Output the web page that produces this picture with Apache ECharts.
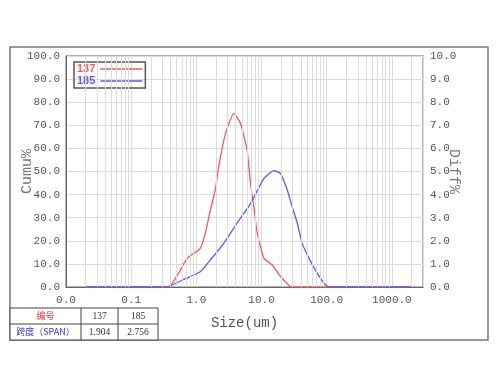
<!DOCTYPE html>
<html>
<head>
<meta charset="utf-8">
<script src="https://cdn.jsdelivr.net/npm/echarts@6/dist/echarts.min.js"></script>
<style>html,body{margin:0;padding:0;background:#fff;}#c{width:500px;height:375px;}</style>
</head>
<body>
<div id="c"></div>
<script>
// ---- data ----
var sizes137 = [0.02, 0.37, 0.72, 1.15, 1.37, 1.64, 1.95, 2.2, 2.8, 3.75, 4.75, 6.0, 6.77, 7.6, 8.6, 10.9, 14.6, 19.6, 26, 28, 2000];
var diff137  = [0, 0, 1.24, 1.67, 2.32, 3.33, 4.2, 5.2, 6.65, 7.52, 7.09, 5.93, 4.49, 3.48, 2.32, 1.24, 0.95, 0.45, 0.09, 0, 0];
var sizes185 = [0.02, 0.35, 0.64, 1.15, 1.64, 2.63, 4.2, 6.8, 10.9, 15.5, 19.5, 24.8, 29.5, 35.4, 42, 56.8, 72, 91, 108, 2000];
var diff185  = [0, 0, 0.33, 0.66, 1.17, 1.89, 2.76, 3.62, 4.7, 5.04, 4.92, 4.2, 3.48, 2.76, 1.89, 1.1, 0.59, 0.16, 0, 0];
var seriesNames = ['137', '185'];
var seriesColors = ['#f05a5a', '#5a5af0'];
var tableHeader = ['编号', '137', '185'];
var tableSpan = ['跨度（SPAN）', '1.904', '2.756'];
var decades = [0.01, 0.1, 1, 10, 100, 1000];
var minorMult = [2, 3, 4, 5, 6, 7, 8, 9];

function zip(a, b) { return a.map(function (v, i) { return [v, b[i]]; }); }
var minorLines = [];
decades.forEach(function (d) {
  minorMult.forEach(function (m) {
    var v = +(d * m).toPrecision(3);
    if (v <= 3000) minorLines.push({ xAxis: v });
  });
});

var chart = echarts.init(document.getElementById('c'), null, { renderer: 'canvas' });
var tickFont = { fontFamily: 'Liberation Mono', fontSize: 11, color: '#555' };
var gridColor = '#dcdcdc';

// table geometry
var tx = [10, 81, 118, 158], ty = [308, 324, 340];
var tableGraphics = [];
tableGraphics.push({ type: 'rect', shape: { x: tx[0], y: ty[0], width: tx[3] - tx[0], height: ty[2] - ty[0] }, style: { fill: '#fff', stroke: '#444', lineWidth: 1 } });
tableGraphics.push({ type: 'line', shape: { x1: tx[1], y1: ty[0], x2: tx[1], y2: ty[2] }, style: { stroke: '#444', lineWidth: 1 } });
tableGraphics.push({ type: 'line', shape: { x1: tx[2], y1: ty[0], x2: tx[2], y2: ty[2] }, style: { stroke: '#444', lineWidth: 1 } });
tableGraphics.push({ type: 'line', shape: { x1: tx[0], y1: ty[1], x2: tx[3], y2: ty[1] }, style: { stroke: '#444', lineWidth: 1 } });
[tableHeader, tableSpan].forEach(function (row, r) {
  row.forEach(function (txt, c) {
    var color = '#333';
    if (c === 0) color = r === 0 ? '#e83030' : '#3030d0';
    tableGraphics.push({
      type: 'text',
      x: (tx[c] + tx[c + 1]) / 2, y: (ty[r] + ty[r + 1]) / 2,
      style: {
        text: txt, fill: color, align: 'center', verticalAlign: 'middle',
        font: c === 0 ? '9px "Noto Sans CJK SC"' : '9.5px "Liberation Serif"'
      }
    });
  });
});

var option = {
  backgroundColor: '#fff',
  animation: false,
  grid: { left: 66, right: 77, top: 56, bottom: 88, show: true, borderColor: '#666', borderWidth: 1, containLabel: false, outerBoundsMode: 'none' },
  legend: {
    data: seriesNames.map(function (n, i) { return { name: n, textStyle: { color: seriesColors[i] } }; }),
    orient: 'vertical',
    left: 74, top: 62,
    align: 'right',
    icon: 'rect',
    itemWidth: 42, itemHeight: 1.5, itemGap: 0,
    padding: [1, 3, 1, 3],
    borderColor: '#555', borderWidth: 1.5, borderRadius: 0,
    textStyle: { fontFamily: 'Liberation Sans', fontWeight: 'bold', fontSize: 11, lineHeight: 12 },
    selectedMode: false
  },
  xAxis: {
    type: 'log', logBase: 10, min: 0.01, max: 3000,
    name: 'Size(um)', nameLocation: 'middle', nameGap: 29,
    nameTextStyle: { fontFamily: 'Liberation Mono', fontSize: 14, color: '#555' },
    axisLine: { show: true, lineStyle: { color: '#666' } },
    axisTick: { show: false },
    axisLabel: Object.assign({ margin: 8, formatter: function (v) { return (+v).toFixed(1); } }, tickFont),
    splitLine: { show: true, lineStyle: { color: gridColor, width: 1 } }
  },
  yAxis: [{
    type: 'value', min: 0, max: 100, interval: 10,
    name: 'Cumu%', nameLocation: 'middle', nameGap: 31, nameMoveOverlap: false,
    nameTextStyle: { fontFamily: 'Liberation Mono', fontSize: 15, color: '#777' },
    axisLine: { show: true, lineStyle: { color: '#666' } },
    axisTick: { show: false },
    axisLabel: Object.assign({ margin: 6, formatter: function (v) { return v.toFixed(1); } }, tickFont),
    splitLine: { show: true, lineStyle: { color: gridColor, width: 1 } }
  }, {
    type: 'value', min: 0, max: 10, interval: 1, position: 'right',
    name: 'Diff%', nameLocation: 'middle', nameGap: 23, nameRotate: -90, nameMoveOverlap: false,
    nameTextStyle: { fontFamily: 'Liberation Mono', fontSize: 15, color: '#777' },
    axisLine: { show: true, lineStyle: { color: '#666' } },
    axisTick: { show: false },
    axisLabel: Object.assign({ margin: 7, formatter: function (v) { return v.toFixed(1); } }, tickFont),
    splitLine: { show: false }
  }],
  series: [{
    name: 'minor', type: 'line', yAxisIndex: 1, z: 1,
    data: [[0.01, 0]], symbol: 'none', lineStyle: { opacity: 0 }, silent: true,
    markLine: { silent: true, symbol: 'none', label: { show: false }, lineStyle: { color: gridColor, width: 1, type: 'solid' }, data: minorLines, animation: false }
  }, {
    name: seriesNames[0], type: 'line', yAxisIndex: 1, z: 3,
    data: zip(sizes137, diff137), smooth: 0.15, symbol: 'none', showSymbol: false,
    color: seriesColors[0], lineStyle: { width: 1.3, color: seriesColors[0] }
  }, {
    name: seriesNames[1], type: 'line', yAxisIndex: 1, z: 4,
    data: zip(sizes185, diff185), smooth: 0.15, symbol: 'none', showSymbol: false,
    color: seriesColors[1], lineStyle: { width: 1.3, color: seriesColors[1] }
  }],
  graphic: [{
    type: 'rect', z: -1, silent: true,
    shape: { x: 10, y: 47, width: 478, height: 293 },
    style: { fill: 'none', stroke: '#777', lineWidth: 1.5 }
  }].concat(tableGraphics)
};
chart.setOption(option);
</script>
</body>
</html>
